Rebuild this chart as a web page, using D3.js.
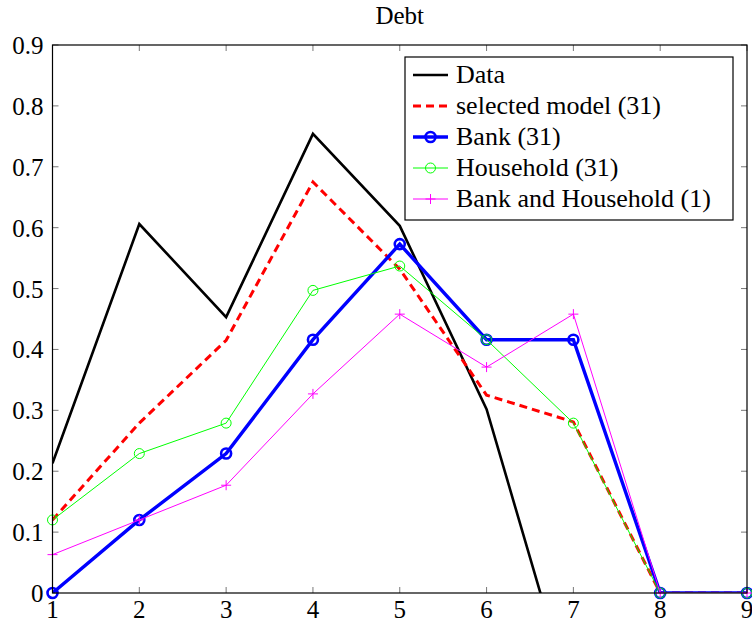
<!DOCTYPE html>
<html>
<head>
<meta charset="utf-8">
<script src="https://cdn.jsdelivr.net/npm/d3@7"></script>
<style>
  body { margin: 0; background: #fff; }
</style>
</head>
<body>
<div id="chart"></div>
<script>
const title = "Debt";
const xs = [1, 2, 3, 4, 5, 6, 7, 8, 9];
const yTicks = [0, 0.1, 0.2, 0.3, 0.4, 0.5, 0.6, 0.7, 0.8, 0.9];

const dataVals = [0.213, 0.606, 0.453, 0.754, 0.603, 0.302, -0.185];
const selectedVals = [0.12, 0.279, 0.415, 0.675, 0.532, 0.325, 0.281, 0, 0];
const bankVals = [0, 0.12, 0.229, 0.416, 0.573, 0.416, 0.416, 0, 0];
const householdVals = [0.12, 0.229, 0.279, 0.497, 0.537, 0.416, 0.279, 0, 0];
const bankHouseholdVals = [0.063, 0.12, 0.177, 0.327, 0.458, 0.371, 0.458, 0, 0];

const series = [
  { name: "Data", values: dataVals, color: "#000", width: 2.6, dash: null, marker: null },
  { name: "selected model (31)", values: selectedVals, color: "#ff0000", width: 3, dash: "8,5", marker: null },
  { name: "Bank (31)", values: bankVals, color: "#0000ff", width: 3.4, dash: null, marker: "circle", mr: 5, mw: 2.6 },
  { name: "Household (31)", values: householdVals, color: "#00ff00", width: 1, dash: null, marker: "circle", mr: 5, mw: 1 },
  { name: "Bank and Household (1)", values: bankHouseholdVals, color: "#ff00ff", width: 1, dash: null, marker: "plus", mr: 5, mw: 1 }
];

const FONT = "Liberation Serif";
const FS = 25;

const W = 752, H = 626;
const margin = { top: 45, right: 5, bottom: 33, left: 52.5 };
const width = W - margin.left - margin.right;
const height = H - margin.top - margin.bottom;

const x = d3.scaleLinear([1, 9], [0, width]);
const y = d3.scaleLinear([0, 0.9], [height, 0]);

const svg = d3.select("#chart").append("svg")
  .attr("width", W).attr("height", H)
  .style("display", "block");

svg.append("text")
  .attr("x", margin.left + width / 2).attr("y", 24)
  .attr("text-anchor", "middle")
  .attr("font-family", FONT)
  .attr("font-size", FS)
  .text(title);

const g = svg.append("g").attr("transform", `translate(${margin.left},${margin.top})`);

g.append("clipPath").attr("id", "clip")
  .append("rect").attr("width", width).attr("height", height);

// ticks inside, on all four sides
const tl = 6;
const tickG = g.append("g").attr("stroke", "#555").attr("stroke-width", 0.8);
xs.forEach(v => {
  tickG.append("line").attr("x1", x(v)).attr("x2", x(v)).attr("y1", height).attr("y2", height - tl);
  tickG.append("line").attr("x1", x(v)).attr("x2", x(v)).attr("y1", 0).attr("y2", tl);
});
yTicks.forEach(v => {
  tickG.append("line").attr("x1", 0).attr("x2", tl).attr("y1", y(v)).attr("y2", y(v));
  tickG.append("line").attr("x1", width).attr("x2", width - tl).attr("y1", y(v)).attr("y2", y(v));
});

g.append("g").selectAll("text").data(xs).join("text")
  .attr("x", d => x(d)).attr("y", height + 25)
  .attr("text-anchor", "middle")
  .attr("font-family", FONT).attr("font-size", FS)
  .text(d => d);

g.append("g").selectAll("text").data(yTicks).join("text")
  .attr("x", -9).attr("y", d => y(d) + 9)
  .attr("text-anchor", "end")
  .attr("font-family", FONT).attr("font-size", FS)
  .text(d => d);

const line = d3.line().x((d, i) => x(xs[i])).y(d => y(d));

const plot = g.append("g");
series.forEach(s => {
  plot.append("path")
    .attr("clip-path", "url(#clip)")
    .attr("d", line(s.values))
    .attr("fill", "none")
    .attr("stroke", s.color)
    .attr("stroke-width", s.width)
    .attr("stroke-dasharray", s.dash)
    .attr("stroke-linejoin", "miter");
  if (s.marker) drawMarkers(plot, s, s.values.map((v, i) => [x(xs[i]), y(v)]));
});

function drawMarkers(sel, s, pts) {
  const mg = sel.append("g");
  pts.forEach(([px, py]) => drawMarker(mg, s, px, py));
}

function drawMarker(sel, s, px, py) {
  if (s.marker === "circle") {
    sel.append("circle").attr("cx", px).attr("cy", py).attr("r", s.mr)
      .attr("fill", "none").attr("stroke", s.color).attr("stroke-width", s.mw);
  } else if (s.marker === "plus") {
    sel.append("path")
      .attr("d", `M${px - s.mr},${py}H${px + s.mr}M${px},${py - s.mr}V${py + s.mr}`)
      .attr("stroke", s.color).attr("stroke-width", s.mw);
  }
}

// frame
g.append("rect").attr("width", width).attr("height", height)
  .attr("fill", "none").attr("stroke", "#000").attr("stroke-width", 1.2);

// legend
const lg = svg.append("g").attr("transform", "translate(405,57)");
lg.append("rect").attr("width", 328).attr("height", 163)
  .attr("fill", "#fff").attr("stroke", "#000").attr("stroke-width", 1.2);
series.forEach((s, i) => {
  const cy = 18 + i * 31;
  lg.append("line").attr("x1", 8).attr("x2", 43).attr("y1", cy).attr("y2", cy)
    .attr("stroke", s.color).attr("stroke-width", s.width)
    .attr("stroke-dasharray", s.dash);
  if (s.marker) drawMarker(lg, s, 25.5, cy);
  lg.append("text").attr("x", 51).attr("y", cy + 8)
    .attr("font-family", FONT).attr("font-size", 26)
    .text(s.name);
});
</script>
</body>
</html>
